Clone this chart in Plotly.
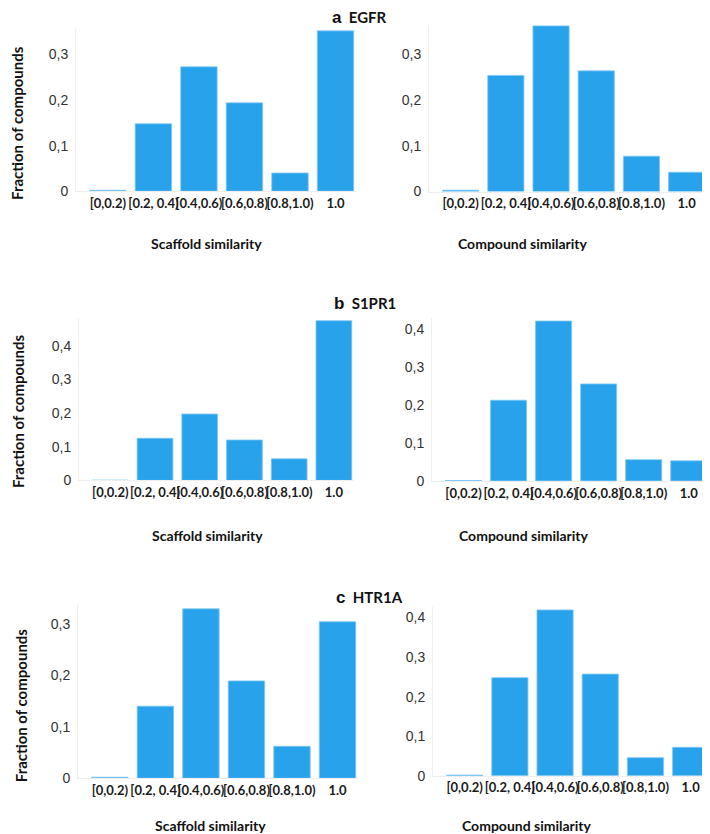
import plotly.graph_objects as go

W, H = 710, 834

categories = ["[0,0.2)", "[0.2, 0.4)", "[0.4,0.6)", "[0.6,0.8)", "[0.8,1.0)", "1.0"]

egfr_scaffold = [0.002, 0.148, 0.273, 0.194, 0.040, 0.352]
egfr_compound = [0.003, 0.253, 0.361, 0.263, 0.077, 0.042]
s1pr1_scaffold = [0.001, 0.125, 0.197, 0.120, 0.064, 0.474]
s1pr1_compound = [0.001, 0.213, 0.422, 0.256, 0.056, 0.053]
htr1a_scaffold = [0.002, 0.140, 0.329, 0.189, 0.062, 0.304]
htr1a_compound = [0.002, 0.248, 0.419, 0.257, 0.046, 0.072]

panel_letters = ["a", "b", "c"]
panel_targets = ["EGFR", "S1PR1", "HTR1A"]
x_titles = ["Scaffold similarity", "Compound similarity"]
y_title = "Fraction of compounds"

series = [egfr_scaffold, egfr_compound, s1pr1_scaffold, s1pr1_compound,
          htr1a_scaffold, htr1a_compound]

# panel geometry in pixels: (axis_left_x, right_x, top_y, baseline_y, ymax)
geom = [
    (68, 348, 21.7, 185, 0.355),
    (421, 699, 16.7, 185.3, 0.364),
    (71, 346, 313, 477, 0.482),
    (424, 701, 313, 477.5, 0.43),
    (70, 350, 603, 777.7, 0.336),
    (425, 703, 605, 775.3, 0.426),
]

BAR = "#29a2ec"
fig = go.Figure()
layout = dict(
    width=W, height=H,
    margin=dict(l=0, r=0, t=0, b=0),
    paper_bgcolor="white", plot_bgcolor="white",
    showlegend=False, bargap=0.2,
    separators=", ",
)

for i, (vals, g) in enumerate(zip(series, geom)):
    xl, xr, yt, yb, ymax = g
    n = "" if i == 0 else str(i + 1)
    fig.add_trace(go.Bar(
        x=categories, y=vals, xaxis="x" + n, yaxis="y" + n,
        marker=dict(color=BAR, line=dict(color="#7cc8f4", width=0.8)),
        hoverinfo="x+y",
    ))
    layout["xaxis" + n] = dict(
        domain=[xl / W, xr / W], anchor="y" + n,
        range=[-0.7, 5.45], tickangle=0,
        showline=True, linecolor="#eeeeee", linewidth=1,
        showgrid=False, zeroline=False, ticks="",
        tickfont=dict(family="Lato", size=13, color="#1a1a1a", weight="bold"),
    )
    layout["yaxis" + n] = dict(
        domain=[(H - yb) / H, (H - yt) / H], anchor="x" + n,
        range=[0, ymax], dtick=0.1, tick0=0,
        showline=True, linecolor="#eeeeee", linewidth=1,
        showgrid=False, zeroline=False, ticks="",
        ticklabelstandoff=4,
        tickfont=dict(family="Liberation Sans", size=14, color="#333333"),
    )

fig.update_layout(**layout)

ann = []
# panel titles
title_pos = [(351, 10), (357, 298), (361, 595)]
for (x, y), letter, tgt in zip(title_pos, panel_letters, panel_targets):
    ann.append(dict(
        x=x / W, y=(H - y) / H, xref="paper", yref="paper",
        xanchor="center", yanchor="middle", showarrow=False,
        text=f"<b><span style='font-family:Liberation Sans;font-size:17px'>{letter}</span>"
             f"&nbsp;&nbsp;{tgt}</b>",
        font=dict(family="Lato", size=15, color="#111111"),
    ))
# x titles
xt_pos = [[(198, 238), (514.5, 238)], [(199.5, 533), (515.5, 533)], [(202, 825), (519, 825)]]
for row in xt_pos:
    for (x, y), t in zip(row, x_titles):
        ann.append(dict(
            x=x / W, y=(H - y) / H, xref="paper", yref="paper",
            xanchor="center", yanchor="middle", showarrow=False,
            text=f"<b>{t}</b>",
            font=dict(family="Lato", size=14, color="#111111"),
        ))
# y titles
yt_pos = [(9, 116), (10, 407), (13, 704)]
for x, y in yt_pos:
    ann.append(dict(
        x=x / W, y=(H - y) / H, xref="paper", yref="paper",
        xanchor="center", yanchor="middle", showarrow=False, textangle=-90,
        text=f"<b>{y_title}</b>",
        font=dict(family="Lato", size=15, color="#111111"),
    ))
fig.update_layout(annotations=ann)

fig.write_html("out.html")
